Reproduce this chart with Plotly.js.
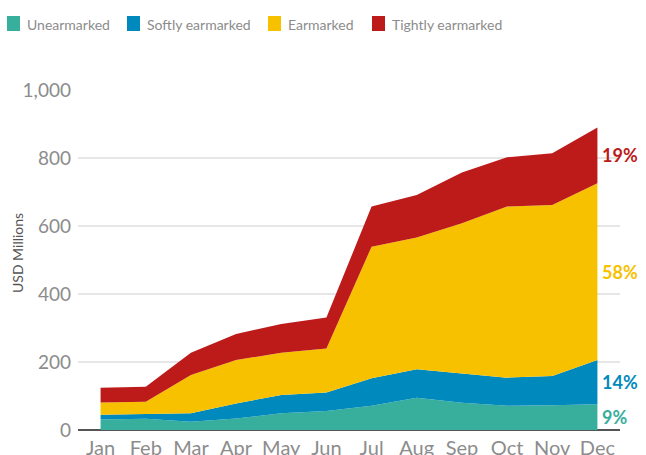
<!DOCTYPE html>
<html>
<head>
<meta charset="utf-8">
<script src="https://cdn.plot.ly/plotly-3.0.1.min.js"></script>
<style>html,body{margin:0;padding:0;background:#fff;}#chart{width:646px;height:455px;}</style>
</head>
<body>
<div id="chart"></div>
<script>
var months = ['Jan','Feb','Mar','Apr','May','Jun','Jul','Aug','Sep','Oct','Nov','Dec'];
var unearmarked = [31, 33, 24, 34, 49, 56, 71, 95, 80, 71, 73, 76];
var softly      = [14, 14, 25, 44, 54, 54, 81, 84, 87, 83, 86, 130];
var earmarked   = [36, 36, 113, 128, 124, 130, 387, 387, 441, 503, 503, 520];
var tightly     = [43, 44, 65, 76, 85, 91, 118, 125, 149, 145, 152, 164];
var seriesNames = ['Unearmarked', 'Softly earmarked', 'Earmarked', 'Tightly earmarked'];
var seriesColors = ['#38ae9c', '#0089bd', '#f8c100', '#bd1a1a'];
var shareLabels = ['9%', '14%', '58%', '19%'];
var yTicks = [0, 200, 400, 600, 800, 1000];

var seriesData = [unearmarked, softly, earmarked, tightly];
var traces = seriesData.map(function(vals, i){
  return {
    type: 'scatter', mode: 'lines', x: months, y: vals,
    name: seriesNames[i], stackgroup: 'one',
    line: {width: 0, color: seriesColors[i]},
    fillcolor: seriesColors[i], showlegend: false, hoverinfo: 'skip'
  };
});

// plot-area geometry in pixels, used for paper coordinates of legend/title
var L = 78, R = 620, T = 90, B = 430, W = 646, H = 455;
function px(x){ return (x - L) / (R - L); }
function py(y){ return (B - y) / (B - T); }

var annotations = [];
var shapes = [];
// legend
var legendSquares = [7, 127, 268, 372];
seriesNames.forEach(function(n, i){
  var x0 = legendSquares[i];
  shapes.push({type:'rect', xref:'paper', yref:'paper', x0: px(x0), x1: px(x0 + 13), y0: py(31), y1: py(16), fillcolor: seriesColors[i], line:{width:0}});
  annotations.push({xref:'paper', yref:'paper', x: px(x0 + 18), y: py(24), xanchor:'left', yanchor:'middle', showarrow:false, text: n, font:{family:'Lato, sans-serif', size:14, color:'#8c8c8c'}});
});
// y title
annotations.push({xref:'paper', yref:'paper', x: px(17), y: py(253), xanchor:'center', yanchor:'middle', showarrow:false, textangle:-90, text:'USD Millions', font:{family:'Lato, sans-serif', size:14, color:'#555555'}});
// share labels at the last month
var last = months.length - 1, cum = 0;
seriesData.forEach(function(vals, i){
  var v = vals[last];
  annotations.push({x: months[last], y: cum + v / 2, xref:'x', yref:'y', xanchor:'left', yanchor:'middle', xshift: 3, showarrow:false, text: '<b>' + shareLabels[i] + '</b>', font:{family:'Lato, sans-serif', size:18, color: seriesColors[i]}});
  cum += v;
});

var layout = {
  width: W, height: H,
  margin: {l: L, r: W - R, t: T, b: H - B, pad: 0},
  paper_bgcolor: '#ffffff', plot_bgcolor: '#ffffff',
  showlegend: false,
  xaxis: {type:'category', range:[-0.5, 11.5], showgrid:false, zeroline:false, showline:false, ticks:'', ticklabelstandoff: 4, tickfont:{family:'Lato, sans-serif', size:20, color:'#8c8c8c'}, fixedrange:true},
  yaxis: {range:[0, 1000], tickvals: yTicks, tickformat:',', showgrid:true, gridcolor:'#e6e6e6', gridwidth:1.5, zeroline:true, zerolinecolor:'#555555', zerolinewidth:2, showline:false, ticks:'', ticklabelstandoff: 6, tickfont:{family:'Lato, sans-serif', size:19, color:'#8c8c8c'}, fixedrange:true},
  annotations: annotations,
  shapes: shapes
};
Plotly.newPlot('chart', traces, layout, {displayModeBar:false, staticPlot:true});
</script>
</body>
</html>
